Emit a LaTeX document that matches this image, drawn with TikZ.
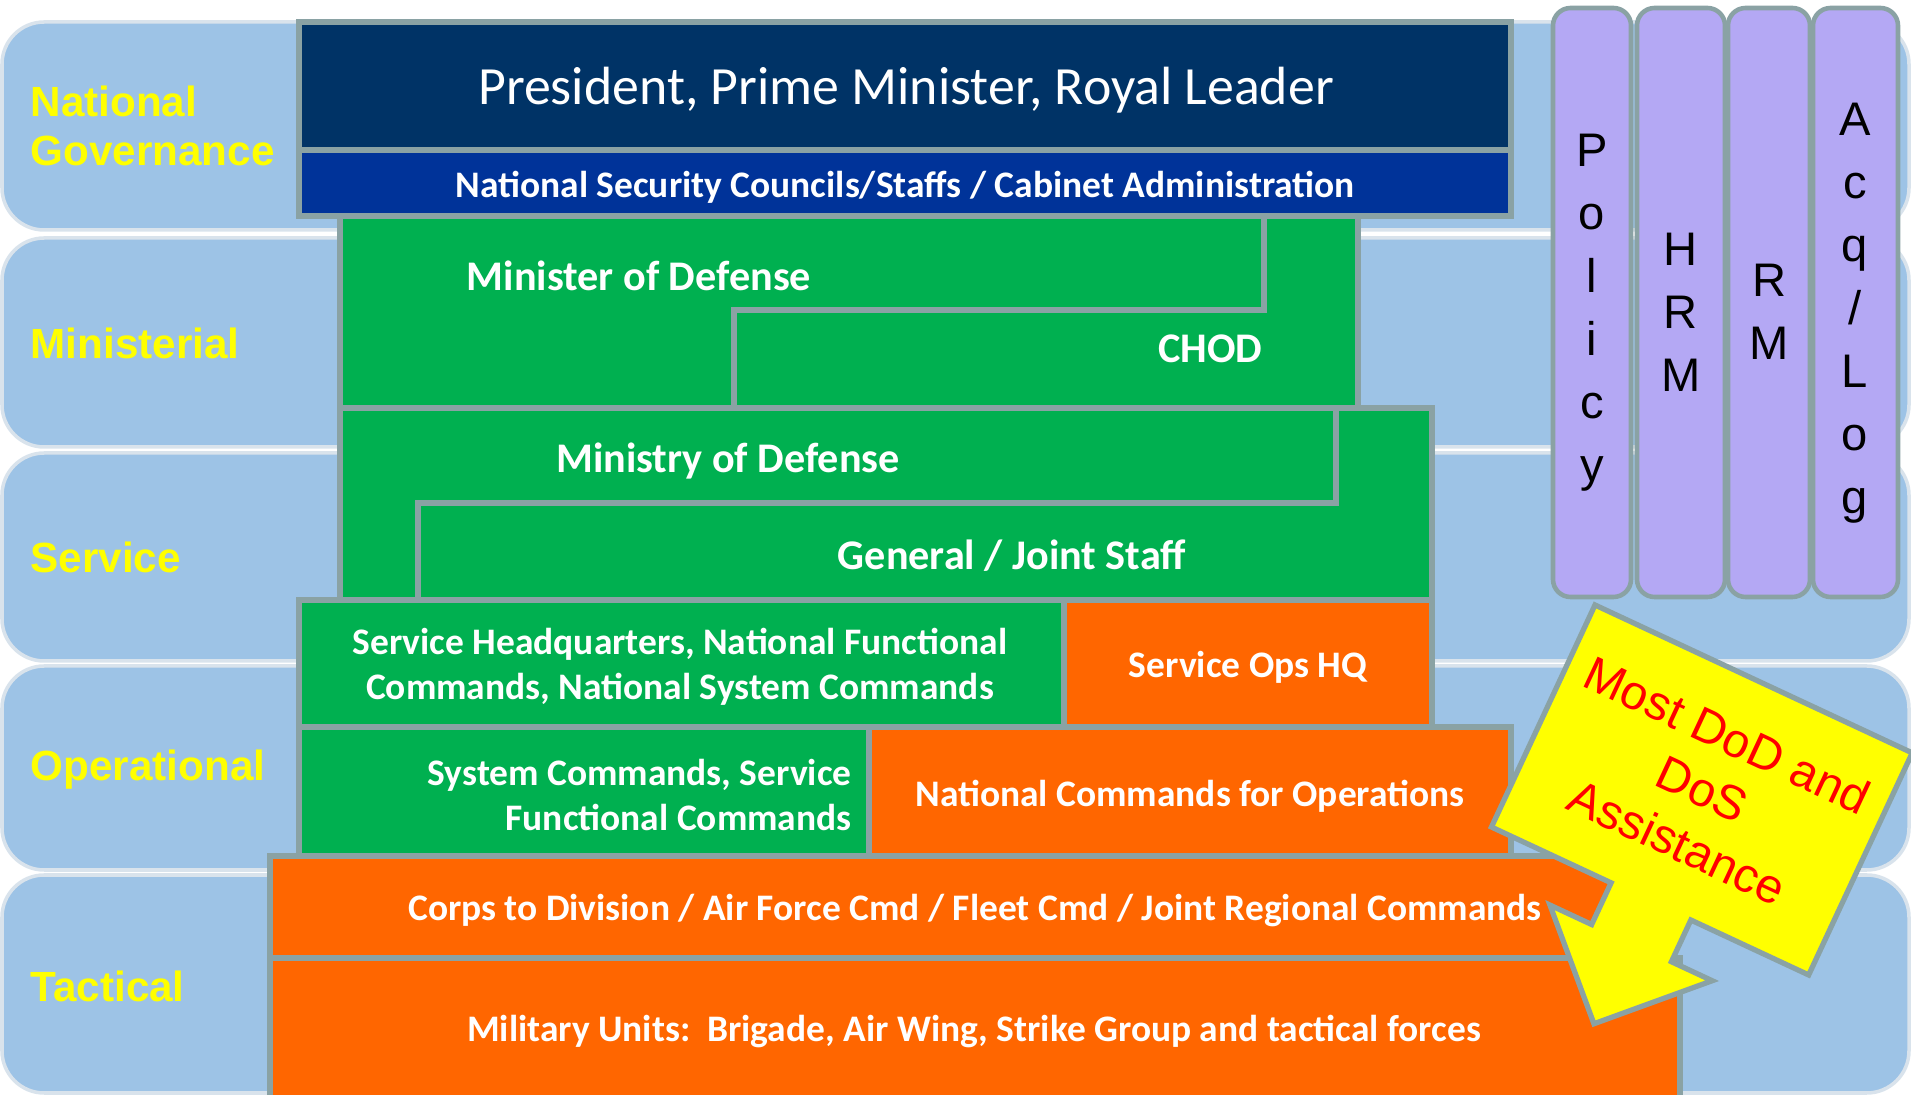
\documentclass[tikz,border=0pt]{standalone}
\usepackage{fontspec}
\setmainfont{Carlito}
\newfontfamily\arialfont{Liberation Sans}
\definecolor{bandblue}{HTML}{9DC3E6}
\definecolor{bandedge}{HTML}{D9E3EC}
\definecolor{rimgray}{HTML}{8AA2A4}
\definecolor{navy}{HTML}{003366}
\definecolor{nscblue}{HTML}{003399}
\definecolor{mgreen}{HTML}{00B050}
\definecolor{morange}{HTML}{FF6600}
\definecolor{colpurple}{HTML}{B4A8F4}
\definecolor{lvlyellow}{HTML}{FFFF00}
\begin{document}
\begin{tikzpicture}[x=0.01cm, y=-0.01cm,
  band/.style={fill=bandblue, draw=bandedge, line width=1pt, rounded corners=12pt},
  lvl/.style={anchor=west, inner sep=0pt, text=lvlyellow, align=left, font=\arialfont\bfseries\fontsize{12}{14}\selectfont},
  blk/.style={draw=rimgray, line width=1.5pt},
  lbl/.style={text=white, align=center, font=\bfseries\fontsize{10.65}{12.8}\selectfont},
  big/.style={text=white, font=\bfseries\fontsize{12}{14}\selectfont},
  col/.style={fill=colpurple, draw=rimgray, line width=1.3pt, rounded corners=5pt},
  colname/.style={align=center, font=\arialfont\fontsize{13.4}{17.9}\selectfont}]
\useasboundingbox (0,0) rectangle (1911,1095);

% levels
\foreach \t/\b in {22/230, 238/447, 453/661, 666/870, 875/1093}
  \draw[band] (2,\t) rectangle (1909,\b);
\node[lvl] (natgov) at (30,126) {National\\Governance};
\node[lvl] (minist) at (30,343) {Ministerial};
\node[lvl] (serv) at (30,557) {Service};
\node[lvl] (oper) at (30,770) {Operational};
\node[lvl] (tact) at (30,986) {Tactical};

% functions
\foreach \xa/\xb in {1553/1631, 1637/1725, 1728/1810, 1813/1898}
  \draw[col] (\xa,8) rectangle (\xb,597);
\node[colname] (policy) at (1592,313) {P\\o\\l\\i\\c\\y};
\node[colname] (hrm) at (1681,312) {H\\R\\M};
\node[colname] (rm) at (1769,312) {R\\M};
\node[colname] (acqlog) at (1855,313) {A\\c\\q\\/\\L\\o\\g};

% national level
\draw[blk, fill=navy] (299,22) rectangle (1511,150);
\draw[blk, fill=nscblue] (299,150) rectangle (1511,216);
\node[text=white, font=\fontsize{15.3}{18}\selectfont] (pres) at (906,90) {President, Prime Minister, Royal Leader};
\node[lbl] (nsc) at (905,187) {National Security Councils/Staffs / Cabinet Administration};

% ministerial and service steps
\draw[blk, fill=mgreen] (340,408) rectangle (1432,600);
\draw[blk] (1336,408) |- (418,503) -- (418,600);
\draw[blk, fill=mgreen] (340,216) rectangle (1358,408);
\draw[blk] (1264,216) |- (734,310) -- (734,408);
\node[big] (mindef) at (639,276) {Minister of Defense};
\node[big, anchor=east] (chod) at (1275,349) {CHOD};
\node[big] (ministry) at (728,461) {Ministry of Defense};
\node[big] (gjs) at (1012,556) {General / Joint Staff};

% operational
\draw[blk, fill=mgreen] (299,600) rectangle (1064,727);
\draw[blk, fill=morange] (1064,600) rectangle (1432,727);
\draw[blk, fill=mgreen] (299,727) rectangle (869,856);
\draw[blk, fill=morange] (869,727) rectangle (1511,856);
\node[lbl] (shq) at (680,667) {Service Headquarters, National Functional\\Commands, National System Commands};
\node[lbl] (sops) at (1248,667) {Service Ops HQ};
\node[lbl, align=right, anchor=east] (syscmd) at (864,795) {System Commands, Service\\Functional Commands};
\node[lbl] (natcmd) at (1190,796) {National Commands for Operations};

% tactical
\draw[blk, fill=morange] (270,856) rectangle (1640,958);
\draw[blk, fill=morange] (270,958) rectangle (1680,1102);
\node[lbl] (corps) at (975,911) {Corps to Division / Air Force Cmd / Fleet Cmd / Joint Regional Commands};
\node[lbl] (units) at (974,1032) {Military Units:\ \ Brigade, Air Wing, Strike Group and tactical forces};

% assistance arrow
\begin{scope}[shift={(1595,605)}, rotate=-25]
  \draw[blk, fill=lvlyellow] (0,0) -- (350,0) -- (350,245) -- (220,245) -- (220,291) -- (265,291)
    -- (176,380) -- (86,291) -- (132,291) -- (132,245) -- (0,245) -- cycle;
  \node[transform shape, text=red, align=center, font=\arialfont\fontsize{13.7}{16.8}\selectfont] (assist) at (175,121) {Most DoD and\\DoS\\Assistance};
\end{scope}
\end{tikzpicture}
\end{document}
